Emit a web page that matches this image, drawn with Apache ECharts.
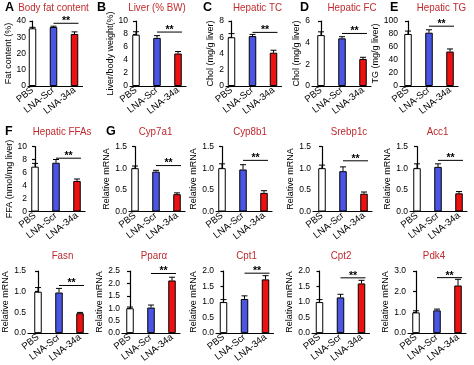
<!DOCTYPE html>
<html><head><meta charset="utf-8">
<script src="https://cdn.jsdelivr.net/npm/echarts@6/dist/echarts.min.js"></script>
<style>html,body{margin:0;padding:0;background:#fff}#c{width:474px;height:365px}</style>
</head><body><div id="c"></div>
<script>
// ---------------- data ----------------
const groups = ['PBS', 'LNA-Scr', 'LNA-34a'];
const panelTitles = ['Body fat content', 'Liver (% BW)', 'Hepatic TC', 'Hepatic FC', 'Hepatic TG',
  'Hepatic FFAs', 'Cyp7a1', 'Cyp8b1', 'Srebp1c', 'Acc1',
  'Fasn', 'Ppar\u03b1', 'Cpt1', 'Cpt2', 'Pdk4'];
const panelLetters = ['A', 'B', 'C', 'D', 'E', 'F', 'G', '', '', '', '', '', '', '', ''];
const yNames = ['Fat content (%)', 'Liver/body weight(%)', 'Chol (mg/g liver)', 'Chol (mg/g liver)', 'TG (mg/g liver)',
  'FFA (nmol/mg liver)', 'Relative mRNA', 'Relative mRNA', 'Relative mRNA', 'Relative mRNA',
  'Relative mRNA', 'Relative mRNA', 'Relative mRNA', 'Relative mRNA', 'Relative mRNA'];
const yMax = [40, 10, 8, 6, 100, 10, 1.5, 1.5, 1.5, 1.5, 1.5, 2.5, 2.0, 2.0, 3.0];
const yStep = [10, 2, 2, 2, 20, 2, 0.5, 0.5, 0.5, 0.5, 0.5, 0.5, 0.5, 0.5, 1.0];
const yDecimals = [0, 0, 0, 0, 0, 0, 1, 1, 1, 1, 1, 1, 1, 1, 1];

const bodyFatMean = [35.5, 36.3, 32.0], bodyFatErr = [0.6, 0.5, 1.3];
const liverMean = [7.9, 7.4, 5.0], liverErr = [0.45, 0.35, 0.3];
const tcMean = [6.0, 6.15, 4.1], tcErr = [0.45, 0.2, 0.3];
const fcMean = [4.7, 4.4, 2.5], fcErr = [0.3, 0.15, 0.15];
const tgMean = [80, 82, 53], tgErr = [4.5, 4.5, 4];
const ffaMean = [6.9, 7.5, 4.7], ffaErr = [0.5, 0.5, 0.3];
const cyp7a1Mean = [1.0, 0.92, 0.4], cyp7a1Err = [0.05, 0.03, 0.03];
const cyp8b1Mean = [1.0, 0.97, 0.43], cyp8b1Err = [0.1, 0.11, 0.05];
const srebp1cMean = [1.0, 0.93, 0.41], srebp1cErr = [0.07, 0.1, 0.04];
const acc1Mean = [1.0, 1.03, 0.42], acc1Err = [0.1, 0.07, 0.04];
const fasnMean = [1.0, 0.98, 0.48], fasnErr = [0.1, 0.1, 0.02];
const pparaMean = [1.0, 1.03, 2.12], pparaErr = [0.05, 0.1, 0.13];
const cpt1Mean = [1.0, 1.1, 1.73], cpt1Err = [0.08, 0.1, 0.12];
const cpt2Mean = [1.0, 1.15, 1.6], cpt2Err = [0.08, 0.1, 0.1];
const pdk4Mean = [1.0, 1.1, 2.3], pdk4Err = [0.08, 0.06, 0.3];
// significance bracket level (value units) between LNA-Scr and LNA-34a
const sigLevel = [38.6, 8.3, 6.6, 4.85, 92, 8.2, 1.06, 1.18, 1.17, 1.18, 1.15, 2.4, 1.93, 1.78, 2.68];

const means = [bodyFatMean, liverMean, tcMean, fcMean, tgMean, ffaMean, cyp7a1Mean, cyp8b1Mean,
  srebp1cMean, acc1Mean, fasnMean, pparaMean, cpt1Mean, cpt2Mean, pdk4Mean];
const errs = [bodyFatErr, liverErr, tcErr, fcErr, tgErr, ffaErr, cyp7a1Err, cyp8b1Err,
  srebp1cErr, acc1Err, fasnErr, pparaErr, cpt1Err, cpt2Err, pdk4Err];

// ---------------- layout / style ----------------
const rowBox = [[21, 86], [146.5, 211.5], [271, 336.5]];
const axisX = [28, 130, 226, 312, 400, 29, 129, 216, 313, 410, 28, 122, 216, 312, 408];
const firstOff = [4.5, 6, 5.5, 9, 8, 6, 6, 6, 9, 7, 10, 8, 7.5, 7.5, 8];
const SP = 21, TAIL = 8;
const titleX = [53.5, 157, 257.5, 352, 441.5, 62, 155.5, 250, 349, 437.5, 62.5, 154, 246.5, 341, 434];
const titleY = [7.5, 132, 256];
const letterX = [5, 97, 203, 300, 390, 5, 106];
const barColors = ['#ffffff', '#4b55e3', '#ee1111'];
const titleColor = '#bf2a2e';
const SANS = "'Liberation Sans', Arial, sans-serif";
const tickFont = 8.5;

const mctx = document.createElement('canvas').getContext('2d');
function textW(t, size, fam) { mctx.font = size + 'px ' + fam; return mctx.measureText(t).width; }

const grids = [], xAxes = [], yAxes = [], series = [], graphics = [];
for (let i = 0; i < means.length; i++) {
  const r = Math.floor(i / 5);
  const top = rowBox[r][0], bottom = rowBox[r][1];
  const width = firstOff[i] + 2 * SP + TAIL;
  grids.push({ left: axisX[i], top: top, width: width, height: bottom - top });
  xAxes.push({
    gridIndex: i, type: 'value', min: -firstOff[i] / SP, max: 2 + TAIL / SP,
    axisLine: { show: true, lineStyle: { color: '#000', width: 1.2 } },
    axisTick: { show: false }, splitLine: { show: false },
    axisLabel: {
      customValues: [0, 1, 2], formatter: v => groups[Math.round(v)],
      rotate: 38, fontSize: 9.5, fontFamily: SANS, color: '#000', margin: 3
    }
  });
  let maxLab = 0;
  for (let v = 0; v <= yMax[i] + 1e-9; v += yStep[i]) maxLab = Math.max(maxLab, textW(v.toFixed(yDecimals[i]), tickFont, SANS));
  yAxes.push({
    gridIndex: i, type: 'value', min: 0, max: yMax[i], interval: yStep[i],
    axisLine: { show: true, lineStyle: { color: '#000', width: 1.2 } },
    axisTick: { show: true, length: 3, lineStyle: { color: '#000', width: 1.2 } },
    splitLine: { show: false },
    axisLabel: { fontSize: tickFont, fontFamily: SANS, color: '#000', margin: 2,
      formatter: v => Number(v).toFixed(yDecimals[i]) },
    name: yNames[i], nameLocation: 'middle', nameGap: maxLab + 6,
    nameTextStyle: { fontSize: 9, fontFamily: SANS, color: '#000' }
  });
  const m = means[i], e = errs[i];
  series.push({
    type: 'bar', xAxisIndex: i, yAxisIndex: i, barWidth: 7.5, silent: true, animation: false,
    itemStyle: { borderColor: '#000', borderWidth: 1 },
    data: groups.map((g, k) => ({ value: [k, m[k]], itemStyle: { color: barColors[k] } }))
  });
  series.push({
    type: 'custom', xAxisIndex: i, yAxisIndex: i, silent: true, animation: false, z: 5,
    data: groups.map((g, k) => [k, m[k], e[k]]), encode: { x: 0, y: 1 },
    renderItem: (params, api) => {
      const x = api.value(0), y = api.value(1), er = api.value(2);
      const p0 = api.coord([x, y]), p1 = api.coord([x, y + er]);
      return { type: 'group', children: [
        { type: 'line', shape: { x1: p0[0], y1: p0[1], x2: p1[0], y2: p1[1] }, style: { stroke: '#000', lineWidth: 1 } },
        { type: 'line', shape: { x1: p1[0] - 3, y1: p1[1], x2: p1[0] + 3, y2: p1[1] }, style: { stroke: '#000', lineWidth: 1 } }
      ] };
    }
  });
  series.push({
    type: 'custom', xAxisIndex: i, yAxisIndex: i, silent: true, animation: false, z: 5,
    data: [[1, 2, sigLevel[i]]], encode: { x: 0, y: 2 },
    renderItem: (params, api) => {
      const a = api.coord([api.value(0), api.value(2)]), b = api.coord([api.value(1), api.value(2)]);
      const x2 = b[0] + 4;
      return { type: 'group', children: [
        { type: 'line', shape: { x1: a[0], y1: a[1], x2: x2, y2: b[1] }, style: { stroke: '#000', lineWidth: 1 } },
        { type: 'text', x: (a[0] + x2) / 2, y: a[1] - 2, style: { text: '**', fontSize: 10.5, fontWeight: 'bold',
          fontFamily: SANS, fill: '#000', align: 'center', verticalAlign: 'middle' } }
      ] };
    }
  });
  graphics.push({ type: 'text', x: titleX[i], y: titleY[r], scaleX: 0.85, style: { text: panelTitles[i], fill: titleColor,
    fontSize: 11.5, fontFamily: SANS, align: 'center', verticalAlign: 'middle' } });
  if (panelLetters[i]) {
    graphics.push({ type: 'text', x: letterX[i], y: titleY[r], style: { text: panelLetters[i], fill: '#000',
      fontSize: 12.5, fontWeight: 'bold', fontFamily: SANS, align: 'left', verticalAlign: 'middle' } });
  }
}

const chart = echarts.init(document.getElementById('c'), null, { renderer: 'canvas' });
chart.setOption({
  animation: false, backgroundColor: '#fff',
  grid: grids, xAxis: xAxes, yAxis: yAxes, series: series, graphic: graphics
});
</script></body></html>
